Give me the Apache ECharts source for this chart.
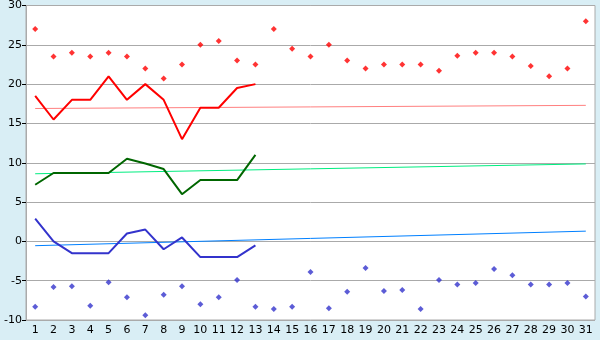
<!DOCTYPE html>
<html><head><meta charset="utf-8">
<script src="https://cdn.jsdelivr.net/npm/echarts@6/dist/echarts.min.js"></script>
<style>html,body{margin:0;padding:0;background:#d9eef5;}#c{width:600px;height:340px;}</style>
</head><body><div id="c"></div>
<script>
var days = [];
for (var i = 1; i <= 31; i++) days.push(String(i));
var yTicks = [-10, -5, 0, 5, 10, 15, 20, 25, 30];
var recordHigh = [27,23.5,24,23.5,24,23.5,22,20.7,22.5,25,25.5,23,22.5,27,24.5,23.5,25,23,22,22.5,22.5,22.5,21.7,23.6,24,24,23.5,22.3,21,22,28];
var recordLow = [-8.3,-5.8,-5.7,-8.2,-5.2,-7.1,-9.4,-6.8,-5.7,-8,-7.1,-4.9,-8.3,-8.6,-8.3,-3.9,-8.5,-6.4,-3.4,-6.3,-6.2,-8.6,-4.9,-5.5,-5.3,-3.5,-4.3,-5.5,-5.5,-5.3,-7];
var dailyMax = [18.5,15.5,18,18,21,18,20,18,13,17,17,19.5,20];
var dailyMean = [7.2,8.7,8.7,8.7,8.7,10.5,9.9,9.2,6,7.8,7.8,7.8,11];
var dailyMin = [2.9,0,-1.5,-1.5,-1.5,1,1.5,-1,0.5,-2,-2,-2,-0.5];
var normalMaxEnds = [16.9, 17.3];
var normalMeanEnds = [8.6, 9.85];
var normalMinEnds = [-0.55, 1.3];
function ends(pair){ var a=[]; for(var i=0;i<31;i++) a.push(null); a[0]=pair[0]; a[30]=pair[1]; return a; }
var font = 'DejaVu Sans';
var chart = echarts.init(document.getElementById('c'));
chart.setOption({
  backgroundColor: '#d9eef5',
  animation: false,
  grid: {left: 26, right: 5, top: 5, bottom: 20, show: true, backgroundColor: '#ffffff', borderColor: '#aaaaaa', borderWidth: 1},
  xAxis: {type: 'category', data: days, boundaryGap: true,
    axisLine: {lineStyle: {color: '#aaaaaa'}},
    axisTick: {alignWithLabel: true, interval: 0, length: 4, lineStyle: {color: '#000'}},
    axisLabel: {interval: 0, color: '#000', fontFamily: font, fontSize: 11, margin: 5}},
  yAxis: {type: 'value', min: yTicks[0], max: yTicks[yTicks.length-1], interval: 5,
    axisLine: {show: true, lineStyle: {color: '#aaaaaa'}},
    axisTick: {show: true, length: 4, lineStyle: {color: '#000'}},
    axisLabel: {color: '#000', fontFamily: font, fontSize: 11, margin: 4},
    splitLine: {lineStyle: {color: '#aaaaaa', width: 1}}},
  series: [
    {type: 'line', data: ends(normalMaxEnds), connectNulls: true, showSymbol: false, lineStyle: {color: '#ff8080', width: 1}},
    {type: 'line', data: ends(normalMeanEnds), connectNulls: true, showSymbol: false, lineStyle: {color: '#00ee80', width: 1}},
    {type: 'line', data: ends(normalMinEnds), connectNulls: true, showSymbol: false, lineStyle: {color: '#0080ff', width: 1}},
    {type: 'line', data: dailyMax, showSymbol: false, lineStyle: {color: '#ff0000', width: 2}},
    {type: 'line', data: dailyMean, showSymbol: false, lineStyle: {color: '#006600', width: 2}},
    {type: 'line', data: dailyMin, showSymbol: false, lineStyle: {color: '#3333cc', width: 2}},
    {type: 'scatter', data: recordHigh, symbol: 'diamond', symbolSize: 6, itemStyle: {color: '#ff0000'}},
    {type: 'scatter', data: recordLow, symbol: 'diamond', symbolSize: 6, itemStyle: {color: '#3333cc'}}
  ]
});
</script></body></html>
